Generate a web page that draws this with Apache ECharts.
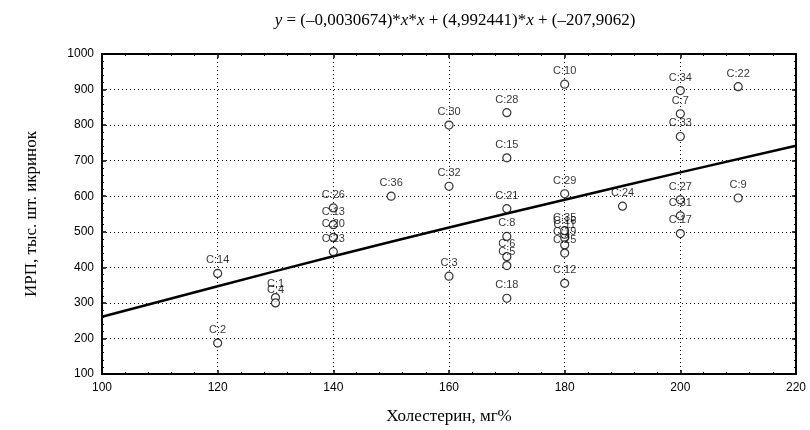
<!DOCTYPE html>
<html><head><meta charset="utf-8">
<script src="https://cdn.jsdelivr.net/npm/echarts@6/dist/echarts.min.js"></script>
<style>html,body{margin:0;padding:0;background:#fff}#c{width:810px;height:430px}</style>
</head><body><div id="c"></div>
<script>
const labels = ['C:1','C:2','C:3','C:4','C:5','C:6','C:7','C:8','C:9','C:10','C:11','C:12','C:13','C:14','C:15','C:16','C:17','C:18','C:19','C:20','C:21','C:22','C:23','C:24','C:25','C:26','C:27','C:28','C:29','C:30','C:31','C:32','C:33','C:34','C:35','C:36'];
const cholesterol = [130,120,160,130,170,170,200,170,210,180,180,180,140,120,170,180,200,170,180,140,170,210,140,190,180,140,200,170,180,160,200,160,200,200,180,150];
const irp = [315,187,375,300,405,430,832,487,595,915,483,355,520,383,708,493,495,313,463,484,565,908,444,572,440,567,590,835,607,800,545,628,768,897,503,600];
const fitX = [100,120,140,160,180,200,220];
const fitY = [261,347,431,512,590,667,742];
const xTicks = [100,120,140,160,180,200,220];
const yTicks = [100,200,300,400,500,600,700,800,900,1000];

const pts = cholesterol.map((x,i)=>({value:[x,irp[i]], name:labels[i]}));
const fit = fitX.map((x,i)=>[x,fitY[i]]);
const chart = echarts.init(document.getElementById('c'));
const axisBase = {
  axisLine:{show:true,onZero:false,lineStyle:{color:'#000',width:2}},
  axisTick:{show:true,inside:true,length:4,lineStyle:{color:'#000',width:1.5}},
  minorTick:{show:true,splitNumber:5,length:2,lineStyle:{color:'#000',width:1}},
};
const ts = {fontFamily:'Liberation Serif',fontSize:17,color:'#000'};
chart.setOption({
  animation:false,
  title:{text:'{i|y} = (–0,0030674)*{i|x}*{i|x} + (4,992441)*{i|x} + (–207,9062)',left:450,top:7,textAlign:'center',
    textStyle:Object.assign({fontWeight:'normal',rich:{i:Object.assign({fontStyle:'italic'},ts)}},ts)},
  grid:{left:102,right:14,top:54,bottom:56,show:false},
  xAxis:[
    Object.assign({type:'value',min:100,max:220,interval:20,position:'bottom',
      name:'Холестерин, мг%',nameLocation:'middle',nameGap:34,
      nameTextStyle:{fontFamily:'Liberation Serif',fontSize:17,color:'#000'},
      axisLabel:{fontFamily:'Liberation Sans',fontSize:12,color:'#000',margin:8,
        formatter:v=>xTicks.includes(v)?String(v):''},
      splitLine:{show:true,lineStyle:{color:'#000',type:[1,3],width:1}}},axisBase),
    Object.assign({type:'value',min:100,max:220,interval:20,position:'top',
      axisLabel:{show:false},splitLine:{show:false}},axisBase)
  ],
  yAxis:[
    Object.assign({type:'value',min:100,max:1000,interval:100,position:'left',
      name:'ИРП, тыс. шт. икринок',nameLocation:'middle',nameGap:62,
      nameTextStyle:{fontFamily:'Liberation Serif',fontSize:17,color:'#000'},
      axisLabel:{fontFamily:'Liberation Sans',fontSize:12,color:'#000',margin:8,
        formatter:v=>yTicks.includes(v)?String(v):''},
      splitLine:{show:true,lineStyle:{color:'#000',type:[1,3],width:1}}},axisBase),
    Object.assign({type:'value',min:100,max:1000,interval:100,position:'right',
      axisLabel:{show:false},splitLine:{show:false}},axisBase)
  ],
  series:[
    {type:'line',data:fit,smooth:true,symbol:'none',lineStyle:{color:'#000',width:2.5},z:3},
    {type:'scatter',data:pts,symbol:'circle',symbolSize:8,
      itemStyle:{color:'#fff',borderColor:'#000',borderWidth:1.2},z:4,
      label:{show:true,position:'top',distance:3,formatter:p=>p.name,
        fontFamily:'Liberation Sans',fontSize:11,color:'#000'},
      labelLayout:{hideOverlap:false}}
  ]
});
</script></body></html>
